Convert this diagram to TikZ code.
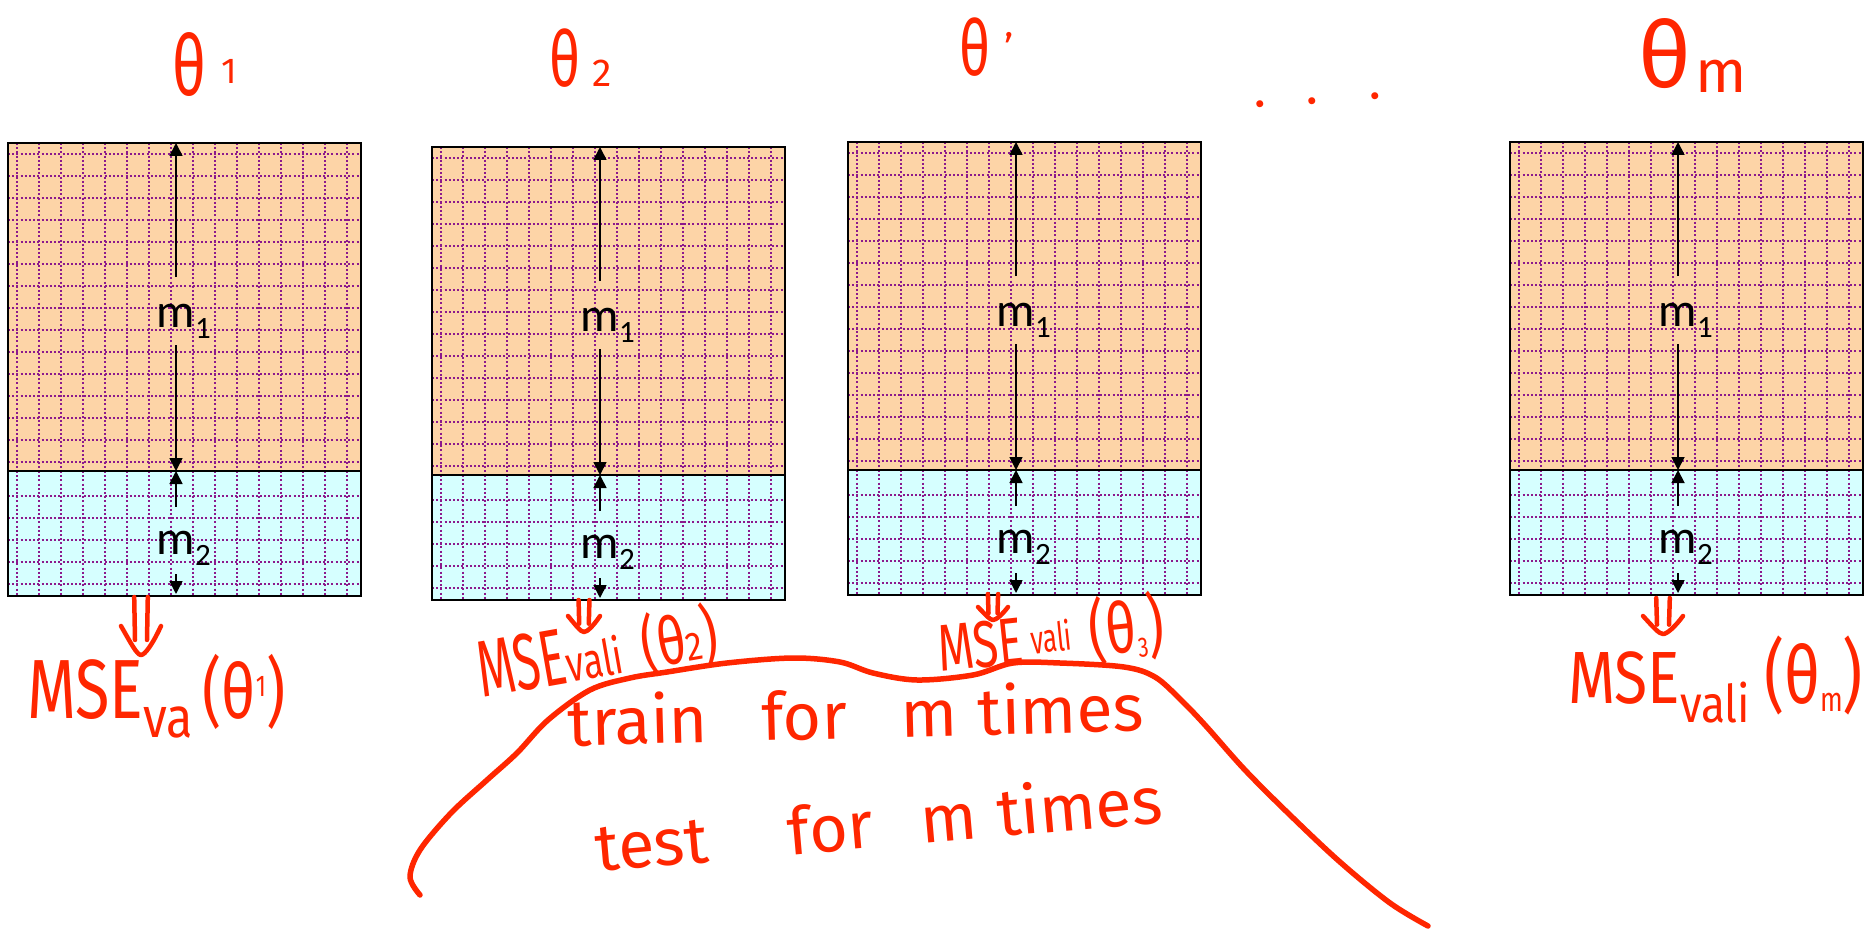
\documentclass[tikz,border=0pt]{standalone}
\usepackage{fontspec}
\usepackage{graphicx}
\setmainfont{Carlito}
\newfontfamily\handfont{Fira Sans}
\usetikzlibrary{arrows.meta}
\definecolor{peach}{RGB}{253,212,167}
\definecolor{icecyan}{RGB}{214,255,255}
\definecolor{gridpurple}{RGB}{140,25,140}
\definecolor{inkred}{RGB}{255,38,0}
\newcommand{\hws}[3]{\scalebox{#1}[1]{\fontsize{#2}{#2}\selectfont #3}}
\begin{document}
\begin{tikzpicture}[x=1pt,y=-1pt,
  gridline/.style={gridpurple, line width=1.6pt, dash pattern=on 2pt off 2.2pt},
  upperbox/.style={draw=black, line width=2pt, fill=peach, minimum width=353pt, minimum height=328pt,
    inner sep=0pt, outer sep=0pt, anchor=north west,
    path picture={
      \foreach \i in {0,...,15} \draw[gridline] ([xshift={9pt+\i*22pt}]path picture bounding box.north west) -- ++(0pt,-340pt);
      \foreach \j in {0,...,14} \draw[gridline] ([yshift={-11pt-\j*22pt}]path picture bounding box.north west) -- ++(360pt,0pt);
    }},
  lowerbox/.style={draw=black, line width=2pt, fill=icecyan, minimum width=353pt, minimum height=125pt,
    inner sep=0pt, outer sep=0pt, anchor=north west,
    path picture={
      \foreach \i in {0,...,15} \draw[gridline] ([xshift={9pt+\i*22pt}]path picture bounding box.north west) -- ++(0pt,-140pt);
      \foreach \j in {0,...,4} \draw[gridline] ([yshift={-25pt-\j*22pt}]path picture bounding box.north west) -- ++(360pt,0pt);
    }},
  dimarrow/.style={black, line width=1.7pt, -{Triangle[width=13pt,length=13pt]}},
  mlabel/.style={anchor=base, inner sep=0pt, font=\fontsize{48}{48}\selectfont},
  ink/.style={text=inkred, inner sep=0pt, font=\handfont},
  inkline/.style={draw=inkred, line width=5.5pt, line cap=round, line join=round},
  dblarrowpic/.pic={
    \draw[inkline, line width=4.5pt] (-0.17,0) -- (-0.15,0.74) (0.17,0) -- (0.15,0.74);
    \draw[inkline, line width=4.5pt] (-0.5,0.5) .. controls (-0.25,0.8) and (-0.1,1) .. (0,1)
      .. controls (0.1,1) and (0.3,0.8) .. (0.5,0.5);
  }
]
\fill[white] (0,0) rectangle (1870,933);
\useasboundingbox (0,0) rectangle (1870,933);

% data boxes
\foreach \n/\bx/\by in {1/8/143,2/432/147,3/848/142,4/1510/142}{
  \node[upperbox] (u\n) at (\bx,\by) {};
  \node[lowerbox] (l\n) at (u\n.south west) {};
  \coordinate (ax\n) at ([xshift=168pt]u\n.north west);
  \coordinate (dv\n) at (ax\n |- l\n.north);
  \draw[dimarrow] ([yshift=-134pt]ax\n) -- (ax\n);
  \node[mlabel] (mone\n) at ([yshift=-184pt]ax\n) {m\rlap{\raisebox{-11pt}{\fontsize{31}{31}\selectfont 1}}};
  \draw[dimarrow] ([yshift=-202pt]ax\n) -- (dv\n);
  \draw[dimarrow] ([yshift=-36pt]dv\n) -- (dv\n);
  \node[mlabel] (mtwo\n) at ([yshift=-83pt]dv\n) {m\rlap{\raisebox{-11pt}{\fontsize{31}{31}\selectfont 2}}};
  \draw[dimarrow] ([yshift=-103pt]dv\n) -- ([yshift=-123pt]dv\n);
}

% headings
\node[ink, anchor=base west] (h1) at (172,96) {\hws{0.7}{84}{θ}\hspace{16pt}\raisebox{12pt}{\hws{1}{36}{1}}};
\node[ink, anchor=base west] (h2) at (549,87) {\hws{0.7}{77}{θ}\hspace{12pt}\hws{1}{39}{2}};
\node[ink, anchor=base west] (h3) at (959,76) {\hws{0.7}{77}{θ}\hspace{14pt}\raisebox{13pt}{\hws{1}{40}{’}}};
\node[ink, anchor=base west, rotate=4] (dots) at (1254,108) {\fontsize{50}{50}\selectfont .\hspace{40pt}.\hspace{52pt}.};
\node[ink, anchor=base west] (hm) at (1638,88) {\hws{1}{92}{θ}\hspace{4pt}\raisebox{-5pt}{\hws{1}{60}{m}}};

% double arrows
\begin{scope}[shift={(141,597)}, x=40pt, y=-58pt] \pic {dblarrowpic}; \end{scope}
\begin{scope}[shift={(584,600)}, x=32pt, y=-32pt] \pic {dblarrowpic}; \end{scope}
\begin{scope}[shift={(993,594)}, x=30pt, y=-26pt] \pic {dblarrowpic}; \end{scope}
\begin{scope}[shift={(1663,598)}, x=40pt, y=-36pt] \pic {dblarrowpic}; \end{scope}

% MSE labels
\node[ink, anchor=base west] (mse1) at (27,718)
  {\hws{0.75}{84}{MSE}\raisebox{-19pt}{\hws{0.85}{57}{va}}\hspace{10pt}\hws{0.78}{76}{(θ\raisebox{22pt}{\hws{1}{30}{1}})}};
\node[ink, anchor=base west, rotate=10] (mse2) at (482,698)
  {\hws{0.6}{80}{MSE}\hws{0.72}{50}{vali}\hspace{20pt}\hws{0.75}{66}{(θ}\hws{0.85}{40}{2}\hws{0.75}{66}{)}};
\node[ink, anchor=base west, rotate=6] (mse3) at (940,672)
  {\hws{0.7}{66}{MSE}\hspace{8pt}\raisebox{8pt}{\hws{0.65}{40}{vali}}\hspace{18pt}\hws{0.75}{70}{(θ\raisebox{-6pt}{\hws{1}{28}{3}})}};
\node[ink, anchor=base west] (msem) at (1568,703)
  {\hws{0.82}{74}{MSE}\raisebox{-19pt}{\hws{0.85}{52}{vali}}\hspace{14pt}\hws{0.78}{80}{(θ\raisebox{-8pt}{\hws{1}{34}{m}})}};

% train / test lines
\node[ink, anchor=base west, rotate=1.5] (train) at (568,746)
  {\fontsize{66}{66}\selectfont train\hspace{54pt}for\hspace{54pt}m\hspace{20pt}times};
\node[ink, anchor=base west, rotate=5] (test) at (597,872)
  {\fontsize{66}{66}\selectfont test\hspace{80pt}for\hspace{48pt}m\hspace{20pt}times};

% hand-drawn curve
\draw[inkline] plot[smooth, tension=0.55] coordinates {
  (420,895) (410,877) (420,850) (451,813) (487,780) (517,753) (548,720) (590,690)
  (630,678) (667,672) (727,663) (793,658) (840,662) (873,673) (917,680) (973,675)
  (1013,663) (1060,663) (1124,667) (1155,677) (1181,700) (1205,725) (1245,770)
  (1290,815) (1340,862) (1390,903) (1428,926)};
\end{tikzpicture}
\end{document}
